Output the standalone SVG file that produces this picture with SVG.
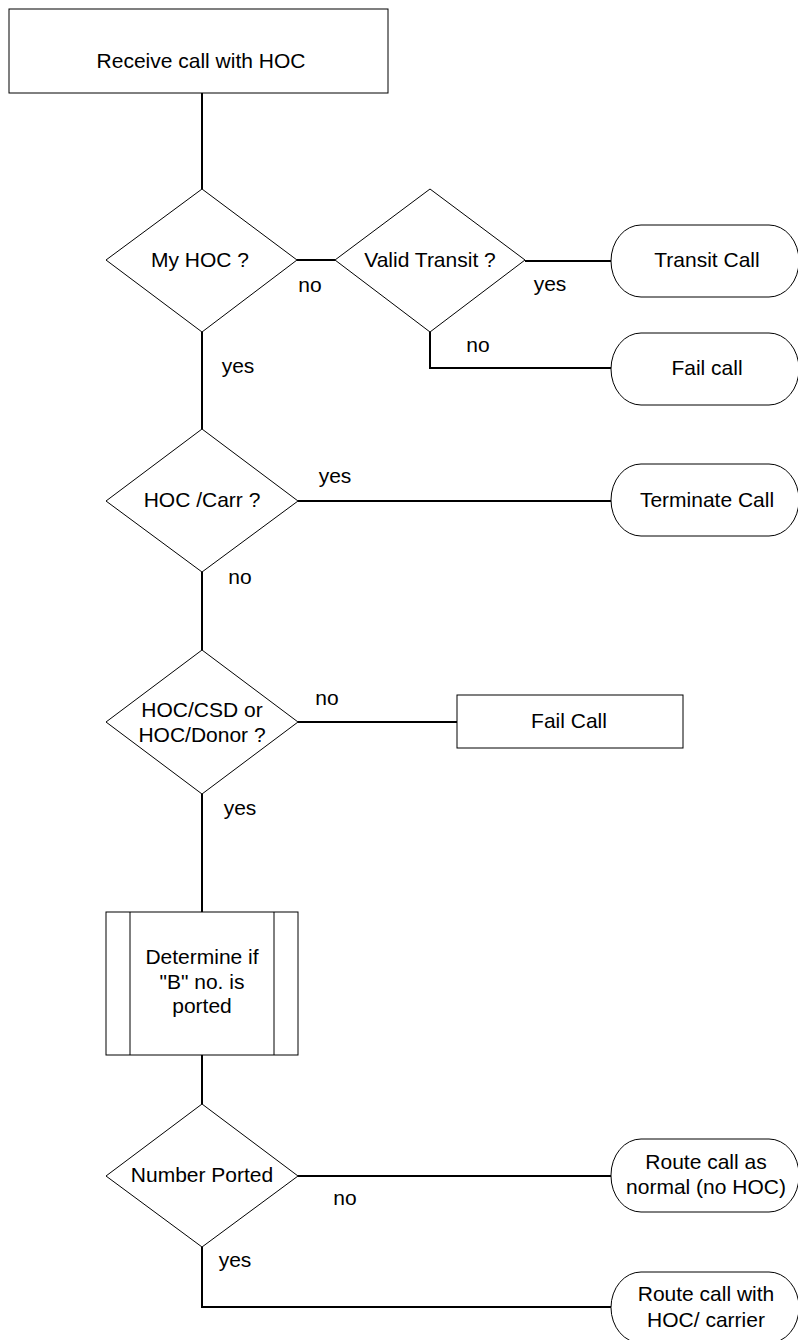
<svg xmlns="http://www.w3.org/2000/svg" width="798" height="1340" viewBox="0 0 798 1340">
<style>
.s{fill:#fff;stroke:#000;stroke-width:1}
.c{fill:none;stroke:#000;stroke-width:2}
text{font-family:"Liberation Sans",Arial,sans-serif;font-size:21px;fill:#000}
.m{text-anchor:middle}
</style>
<rect width="798" height="1340" fill="#fff"/>
<g id="connectors">
<path class="c" d="M202 93V189M202 332V429M202 572V650M202 794V912M202 1055V1104M202 1247V1307H611"/>
<path class="c" d="M297 260H335M525 261H611M430 332V368H611"/>
<path class="c" d="M298 501H611M298 722H457M298 1176H611"/>
</g>
<g id="labels">
<text class="m" x="310" y="292">no</text>
<text class="m" x="550" y="291">yes</text>
<text class="m" x="478" y="352">no</text>
<text class="m" x="238" y="373">yes</text>
<text class="m" x="335" y="483">yes</text>
<text class="m" x="240" y="584">no</text>
<text class="m" x="327" y="705">no</text>
<text class="m" x="240" y="815">yes</text>
<text class="m" x="345" y="1205">no</text>
<text class="m" x="235" y="1267">yes</text>
</g>
<g id="start">
<rect class="s" x="9" y="9" width="379" height="84"/>
<text class="m" x="201" y="68">Receive call with HOC</text>
</g>
<g id="myhoc">
<polygon class="s" points="202,189 297,260 202,332 106,260"/>
<text class="m" x="200" y="267">My HOC ?</text>
</g>
<g id="validtransit">
<polygon class="s" points="430,189 525,260 430,332 335,260"/>
<text class="m" x="430" y="267">Valid Transit ?</text>
</g>
<g id="transitcall">
<rect class="s" x="611" y="225" width="188" height="72" rx="30" ry="36"/>
<text class="m" x="707" y="267">Transit Call</text>
</g>
<g id="failcall1">
<rect class="s" x="611" y="333" width="188" height="72" rx="30" ry="36"/>
<text class="m" x="707" y="375">Fail call</text>
</g>
<g id="hoccarr">
<polygon class="s" points="202,429 298,501 202,572 106,501"/>
<text class="m" x="202" y="507">HOC /Carr ?</text>
</g>
<g id="terminatecall">
<rect class="s" x="611" y="464" width="188" height="72" rx="30" ry="36"/>
<text class="m" x="707" y="507">Terminate Call</text>
</g>
<g id="hoccsd">
<polygon class="s" points="202,650 298,722 202,794 106,722"/>
<text class="m" x="202" y="717">HOC/CSD or</text>
<text class="m" x="202" y="742">HOC/Donor ?</text>
</g>
<g id="failcall2">
<rect class="s" x="457" y="695" width="226" height="53"/>
<text class="m" x="569" y="728">Fail Call</text>
</g>
<g id="determine">
<rect class="s" x="106" y="912" width="192" height="143"/>
<line class="s" x1="130" y1="912" x2="130" y2="1055"/>
<line class="s" x1="274" y1="912" x2="274" y2="1055"/>
<text class="m" x="202" y="964">Determine if</text>
<text class="m" x="202" y="989">"B" no. is</text>
<text class="m" x="202" y="1013">ported</text>
</g>
<g id="numberported">
<polygon class="s" points="202,1104 298,1176 202,1247 106,1176"/>
<text class="m" x="202" y="1182">Number Ported</text>
</g>
<g id="routenormal">
<rect class="s" x="611" y="1139" width="188" height="73" rx="30" ry="36"/>
<text class="m" x="706" y="1169">Route call as</text>
<text class="m" x="706" y="1194">normal (no HOC)</text>
</g>
<g id="routehoc">
<rect class="s" x="611" y="1272" width="188" height="71" rx="30" ry="36"/>
<text class="m" x="706" y="1301">Route call with</text>
<text class="m" x="706" y="1327">HOC/ carrier</text>
</g>
</svg>
